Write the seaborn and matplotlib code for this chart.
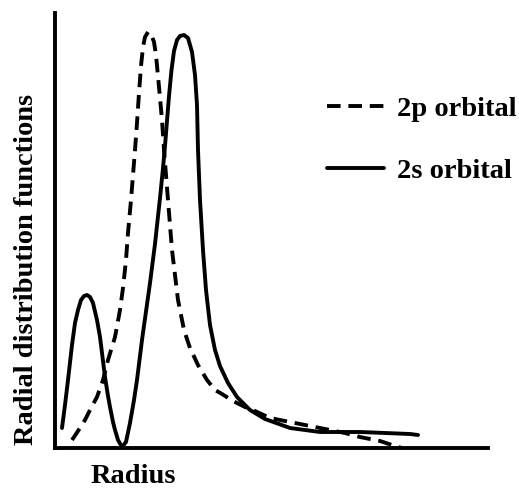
import numpy as np
import pandas as pd
import matplotlib
matplotlib.use("Agg")
import matplotlib.pyplot as plt
import seaborn as sns

# Radial distribution curves (radius in arbitrary units)
r_2s = [0.07, 0.10, 0.13, 0.17, 0.20, 0.23, 0.26, 0.29, 0.32, 0.35, 0.38, 0.42,
        0.45, 0.47, 0.50, 0.53, 0.55, 0.58, 0.60, 0.63, 0.67, 0.71, 0.75, 0.79,
        0.82, 0.87, 0.95, 1.00, 1.05, 1.08, 1.10, 1.12, 1.14, 1.165, 1.19, 1.22,
        1.25, 1.29, 1.33, 1.37, 1.40, 1.42, 1.43, 1.45, 1.48, 1.51, 1.55, 1.60,
        1.65, 1.73, 1.82, 1.95, 2.10, 2.35, 2.65, 3.05, 3.55, 3.63]
p_2s = [20, 43, 68, 103, 125, 138, 148, 152, 153, 151, 145, 128,
        111, 95, 71, 52, 41, 26, 18, 8, 1, 6, 25, 48,
        68, 108, 165, 204, 250, 280, 302, 327, 352, 378, 397, 408,
        412, 413, 410, 396, 373, 343, 298, 248, 198, 158, 123, 98,
        82, 65, 51, 38, 29, 20, 16, 16, 14, 13]

r_2p = [0.17, 0.23, 0.30, 0.36, 0.42, 0.48, 0.53, 0.60, 0.65, 0.68, 0.71, 0.73,
        0.76, 0.78, 0.80, 0.82, 0.84, 0.86, 0.88, 0.90, 0.93, 0.96, 0.99, 1.01,
        1.04, 1.07, 1.09, 1.13, 1.17, 1.23, 1.29, 1.35, 1.43, 1.52, 1.60, 1.67,
        1.78, 1.90, 2.00, 2.15, 2.30, 2.45, 2.60, 2.75, 2.90, 3.05, 3.25, 3.40,
        3.47]
p_2p = [8, 17, 28, 40, 51, 68, 88, 111, 138, 160, 188, 215,
        248, 273, 298, 325, 355, 382, 401, 411, 416, 414, 406, 393,
        361, 328, 298, 248, 198, 148, 118, 100, 83, 68, 58, 54,
        47, 41, 37, 30, 27, 24, 21, 18, 15, 11, 7, 2,
        0]

labels = ["2p orbital", "2s orbital"]

df = pd.concat([
    pd.DataFrame({"radius": r_2p, "density": p_2p, "orbital": labels[0]}),
    pd.DataFrame({"radius": r_2s, "density": p_2s, "orbital": labels[1]}),
], ignore_index=True)

sns.set_style("white")
plt.rcParams["font.family"] = ["Liberation Serif", "DejaVu Serif"]
plt.rcParams["font.weight"] = "bold"
plt.rcParams["text.color"] = "black"
plt.rcParams["axes.labelcolor"] = "black"

fig = plt.figure(figsize=(5.19, 4.92), dpi=100)
ax = fig.add_axes([55 / 519, 44 / 492, 433 / 519, 435 / 492])

sns.lineplot(data=df, x="radius", y="density", hue="orbital", style="orbital",
             palette={labels[0]: "black", labels[1]: "black"},
             dashes={labels[0]: (3.5, 2.0), labels[1]: ""},
             sort=False, estimator=None, linewidth=2.8, ax=ax)

ax.set_xlim(0, 4.33)
ax.set_ylim(0, 435)
ax.set_xticks([])
ax.set_yticks([])
sns.despine(ax=ax)
for side in ["left", "bottom"]:
    ax.spines[side].set_linewidth(2.8)
    ax.spines[side].set_color("black")

ax.set_ylabel("Radial distribution functions", fontsize=20.5, fontweight="bold",
              color="black")
ax.yaxis.set_label_coords(-0.037, 0.41)
ax.set_xlabel("Radius", fontsize=20.5, fontweight="bold", color="black")
ax.xaxis.set_label_coords(0.18, -0.037)

leg = ax.legend(loc="upper left", bbox_to_anchor=(327 / 519, 1 - 96 / 492),
                bbox_transform=fig.transFigure, frameon=False, fontsize=20.5,
                handlelength=2.0, handletextpad=0.45, labelspacing=1.26,
                borderpad=0, borderaxespad=0, title=None)
for line in leg.get_lines():
    line.set_linewidth(2.8)
for txt in leg.get_texts():
    txt.set_color("black")

fig.savefig("out.png", dpi=100, facecolor="white")
